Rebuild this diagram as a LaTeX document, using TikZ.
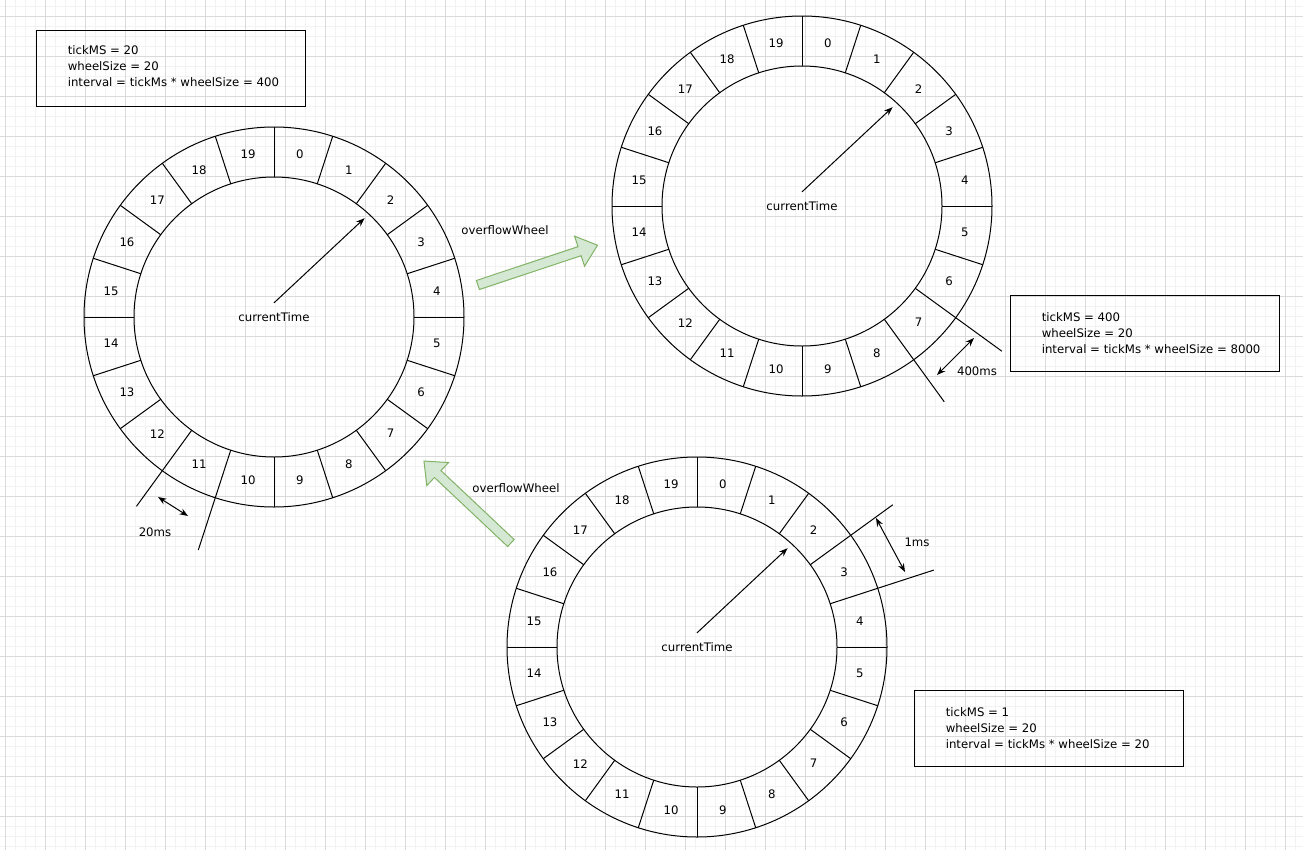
\documentclass[tikz,border=0pt]{standalone}
\usepackage{fontspec}
\setmainfont{DejaVu Sans}
\usepackage{xcolor}
\usepackage{tikz}
\usetikzlibrary{shapes.arrows, arrows.meta, positioning, calc}

\definecolor{gridminor}{HTML}{F2F2F2}
\definecolor{gridmajor}{HTML}{DADADA}
\definecolor{ovfill}{HTML}{D5E8D4}
\definecolor{ovline}{HTML}{82B366}

\begin{document}
\begin{tikzpicture}[x=0.75pt, y=-0.75pt, >=Stealth, font=\fontsize{8.8}{12}\selectfont,
    ring/.style={draw, line width=0.75pt},
    slot/.style={inner sep=0pt},
    lbl/.style={inner sep=1pt},
    infobox/.style={draw, line width=0.75pt, inner sep=0pt, minimum width=201.75pt, minimum height=57pt},
    info/.style={align=left, inner sep=0pt, anchor=west},
    overflow/.style={single arrow, draw=ovline, fill=ovfill, line width=0.75pt, inner sep=3.2pt,
        single arrow head extend=8.3pt, single arrow tip angle=80}]
    \useasboundingbox (0,0) rectangle (1303,850);
    \fill[white] (0,0) rectangle (1303,850);

    % background grid
    \foreach \i in {5,15,...,1303} \draw[gridminor, line width=0.75pt] (\i,0) -- (\i,850);
    \foreach \i in {6,16,...,850} \draw[gridminor, line width=0.75pt] (0,\i) -- (1303,\i);
    \foreach \i in {5,45,...,1303} \draw[gridmajor, line width=0.75pt] (\i,0) -- (\i,850);
    \foreach \i in {16,56,...,850} \draw[gridmajor, line width=0.75pt] (0,\i) -- (1303,\i);

    % the three wheels
    \foreach \w/\cx/\cy in {wa/274/317, wb/802/206, wc/697/647} {
        \coordinate (\w) at (\cx,\cy);
        \draw[ring] (\w) circle[radius=142.5pt];
        \draw[ring] (\w) circle[radius=105pt];
        \foreach \k in {0,...,19} {
            \draw[ring] ($(\w)+({18*\k-90}:140)$) -- ($(\w)+({18*\k-90}:190)$);
            \node[slot] (\w-\k) at ($(\w)+({18*\k-81}:165)$) {\k};
        }
        \node[lbl] (\w-time) at (\w) {currentTime};
        \draw[->, ring] ([yshift=6pt]\w-time.north) -- ($(\w)+(-47.5:134)$);
    }

    % tick width markers
    \coordinate (wa-e1) at ($(wa)+(126:234)$);
    \coordinate (wa-e2) at ($(wa)+(108:245)$);
    \draw[ring] ($(wa)+(126:190)$) -- (wa-e1);
    \draw[ring] ($(wa)+(108:190)$) -- (wa-e2);
    \coordinate (wa-m1) at (158,497);
    \coordinate (wa-m2) at (188,516);
    \draw[<->, ring] (wa-m1) -- (wa-m2);
    \node[lbl] (wa-tick) at (155,532) {20ms};

    \coordinate (wb-e1) at ($(wb)+(36:247)$);
    \coordinate (wb-e2) at ($(wb)+(54:242)$);
    \draw[ring] ($(wb)+(36:190)$) -- (wb-e1);
    \draw[ring] ($(wb)+(54:190)$) -- (wb-e2);
    \coordinate (wb-m1) at (974,338);
    \coordinate (wb-m2) at (937,375);
    \draw[<->, ring] (wb-m1) -- (wb-m2);
    \node[lbl] (wb-tick) at (977,371) {400ms};

    \coordinate (wc-e1) at ($(wc)+(-36:242)$);
    \coordinate (wc-e2) at ($(wc)+(-18:249)$);
    \draw[ring] ($(wc)+(-36:190)$) -- (wc-e1);
    \draw[ring] ($(wc)+(-18:190)$) -- (wc-e2);
    \coordinate (wc-m1) at (876,518);
    \coordinate (wc-m2) at (905,572);
    \draw[<->, ring] (wc-m1) -- (wc-m2);
    \node[lbl] (wc-tick) at (917,542) {1ms};

    % overflow arrows
    \node[overflow, minimum height=94.5pt, rotate=18.4] (up1) at (535,266) {};
    \node[lbl] (up1-text) at (505,230) {overflowWheel};
    \node[overflow, minimum height=89.6pt, rotate=136.7] (up2) at (469.5,504) {};
    \node[lbl] (up2-text) at (516,488) {overflowWheel};

    % settings
    \node[infobox] (boxa) at (170.5,68) {};
    \node[info] (infoa) at ([xshift=24pt, yshift=1.5pt]boxa.west) {tickMS = 20\\wheelSize = 20\\interval = tickMs * wheelSize = 400};
    \node[infobox] (boxb) at (1144.5,333) {};
    \node[info] (infob) at ([xshift=24pt]boxb.west) {tickMS = 400\\wheelSize = 20\\interval = tickMs * wheelSize = 8000};
    \node[infobox] (boxc) at (1048.5,728) {};
    \node[info] (infoc) at ([xshift=24pt]boxc.west) {tickMS = 1\\wheelSize = 20\\interval = tickMs * wheelSize = 20};
\end{tikzpicture}
\end{document}
